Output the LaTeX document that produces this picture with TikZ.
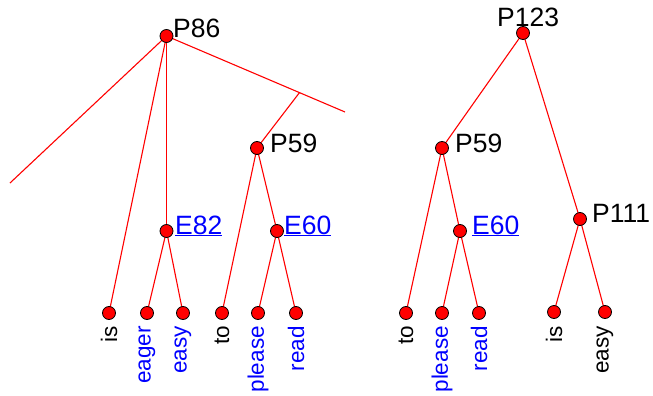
\documentclass[tikz,border=0pt]{standalone}
\usepackage{fontspec}
\setmainfont{Liberation Sans}
\usetikzlibrary{calc}
\pgfdeclarelayer{bg}
\pgfsetlayers{bg,main}
\begin{document}
\begin{tikzpicture}[x=1pt,y=-1pt,
  dot/.style={circle,draw=black,fill=red,inner sep=0pt,minimum size=13pt,line width=0.8pt},
  edge/.style={red,line width=1.1pt},
  lab/.style={inner sep=0pt,anchor=base west,font=\fontsize{26.5}{30}\selectfont},
  elab/.style={lab,text=blue},
  leaf/.style={inner sep=0pt,anchor=east,rotate=90,font=\fontsize{22.5}{26}\selectfont},
  bleaf/.style={leaf,text=blue}]
\useasboundingbox (0,0) rectangle (653,396);
% ---------- left tree ----------
\node[dot] (P86) at (166.5,36) {};
\node[dot] (LP59) at (257,148) {};
\node[dot] (E82) at (166.5,231) {};
\node[dot] (LE60) at (277,231) {};
\node[dot] (Lis) at (109,313) {};
\node[dot] (Leager) at (147,313) {};
\node[dot] (Leasy) at (183,313) {};
\node[dot] (Lto) at (222,313) {};
\node[dot] (Lplease) at (258,313) {};
\node[dot] (Lread) at (296,313) {};
\coordinate (lend) at (10,183);
\coordinate (rend) at (345,112);
\coordinate (br) at ($(P86)!0.745!(rend)$);
\node[lab] (tP86) at (173,38) {P86};
\node[lab] (tLP59) at (270,152) {P59};
\node[elab] (tE82) at (175,234) {\underline{E82}};
\node[elab] (tLE60) at (284,234) {\underline{E60}};
\node[leaf] (wLis) at (Lis|-0,326) {is};
\node[bleaf] (wLeager) at (Leager|-0,326) {eager};
\node[bleaf] (wLeasy) at (Leasy|-0,326) {easy};
\node[leaf] (wLto) at (Lto|-0,326) {to};
\node[bleaf] (wLplease) at (Lplease|-0,326) {please};
\node[bleaf] (wLread) at (Lread|-0,326) {read};
% ---------- right tree ----------
\node[dot] (P123) at (523,33) {};
\node[dot] (RP59) at (442,148) {};
\node[dot] (P111) at (580,219) {};
\node[dot] (RE60) at (460,231) {};
\node[dot] (Rto) at (406,313) {};
\node[dot] (Rplease) at (442,313) {};
\node[dot] (Rread) at (479,313) {};
\node[dot] (Ris) at (554,312) {};
\node[dot] (Reasy) at (605,312) {};
\node[lab] (tP123) at (497,27) {P123};
\node[lab] (tRP59) at (455,152) {P59};
\node[elab] (tRE60) at (472,234) {\underline{E60}};
\node[lab] (tP111) at (592,222) {P111};
\node[leaf] (wRto) at (Rto|-0,326) {to};
\node[bleaf] (wRplease) at (Rplease|-0,326) {please};
\node[bleaf] (wRread) at (Rread|-0,326) {read};
\node[leaf] (wRis) at (Ris|-0,326) {is};
\node[leaf] (wReasy) at (Reasy|-0,326) {easy};
\begin{pgfonlayer}{bg}
\draw[edge] (P86.center) -- (lend);
\draw[edge] (P86.center) -- (rend);
\draw[edge] (br) -- (LP59.center);
\draw[edge] (P86.center) -- (Lis.center);
\draw[edge] (P86.center) -- (E82.center);
\draw[edge] (E82.center) -- (Leager.center);
\draw[edge] (E82.center) -- (Leasy.center);
\draw[edge] (LP59.center) -- (Lto.center);
\draw[edge] (LP59.center) -- (LE60.center);
\draw[edge] (LE60.center) -- (Lplease.center);
\draw[edge] (LE60.center) -- (Lread.center);
\draw[edge] (P123.center) -- (RP59.center);
\draw[edge] (P123.center) -- (P111.center);
\draw[edge] (RP59.center) -- (Rto.center);
\draw[edge] (RP59.center) -- (RE60.center);
\draw[edge] (RE60.center) -- (Rplease.center);
\draw[edge] (RE60.center) -- (Rread.center);
\draw[edge] (P111.center) -- (Ris.center);
\draw[edge] (P111.center) -- (Reasy.center);
\end{pgfonlayer}
\end{tikzpicture}
\end{document}
